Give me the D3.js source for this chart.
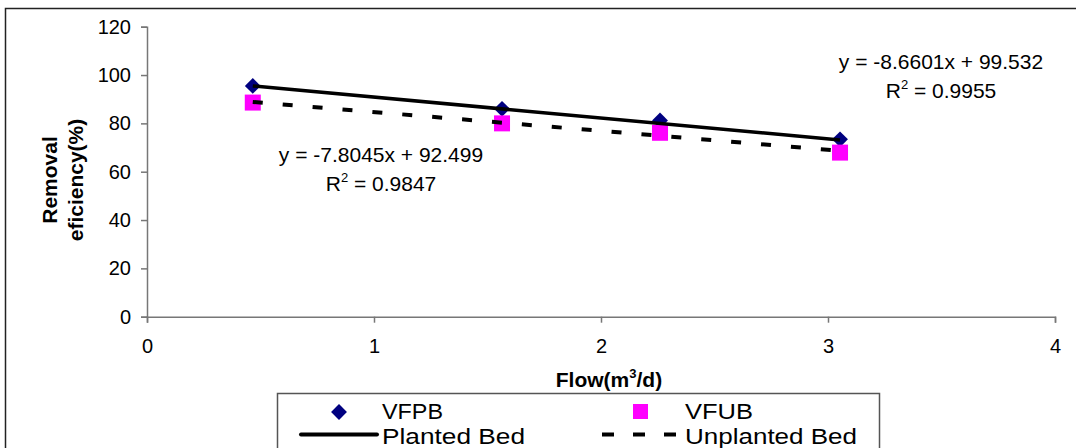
<!DOCTYPE html>
<html>
<head>
<meta charset="utf-8">
<script src="https://cdn.jsdelivr.net/npm/d3@7"></script>
<style>
  html, body { margin: 0; padding: 0; background: #fff; overflow: hidden; }
  text { font-family: "Liberation Sans", Arial, sans-serif; }
</style>
</head>
<body>
<div id="chart"></div>
<script>
// values
var flow = [0.466, 1.564, 2.26, 3.053];
var vfpb = [95.5, 86.0, 81.2, 73.4];
var vfub = [88.6, 80.0, 76.1, 67.9];
var xTicks = [0, 1, 2, 3, 4];
var yTicks = [0, 20, 40, 60, 80, 100, 120];
// trend lines as printed on the chart
var plantedFit = [-8.6601, 99.532];
var unplantedFit = [-7.8045, 92.499];

var width = 1076, height = 448;

var svg = d3.select('#chart').append('svg')
    .attr('width', width).attr('height', height);

// outer chart border (runs off the right/bottom edge)
svg.append('rect')
    .attr('x', 5.5).attr('y', 8.5)
    .attr('width', 1100).attr('height', 500)
    .attr('fill', '#fff').attr('stroke', '#222').attr('stroke-width', 1.5);

var x = d3.scaleLinear().domain([0, 4]).range([147, 1055]);
var y = d3.scaleLinear().domain([0, 120]).range([316.7, 26.7]);

// axes
var yAxis = d3.axisLeft(y).tickValues(yTicks).tickFormat(d3.format('d')).tickSize(6).tickPadding(10);
var xAxis = d3.axisBottom(x).tickValues(xTicks).tickFormat(d3.format('d')).tickSize(6).tickPadding(16);

var gy = svg.append('g').attr('transform', 'translate(' + x(0) + ',0)').call(yAxis);
var gx = svg.append('g').attr('transform', 'translate(0,' + y(0) + ')').call(xAxis);

[gx, gy].forEach(function(g) {
  g.select('.domain').attr('stroke', '#777').attr('stroke-width', 1.5);
  g.selectAll('.tick line').attr('stroke', '#777').attr('stroke-width', 1.5);
  g.selectAll('.tick text').attr('fill', '#000')
      .style('font-family', '"Liberation Sans", Arial, sans-serif')
      .style('font-size', '20px');
});

// markers
var diamond = d3.symbol().type(d3.symbolDiamond2).size(160);

svg.append('g').selectAll('path').data(flow)
    .enter().append('path')
    .attr('d', diamond)
    .attr('transform', function(d, i) { return 'translate(' + x(d) + ',' + y(vfpb[i]) + ')'; })
    .attr('fill', '#000080');

svg.append('g').selectAll('rect').data(flow)
    .enter().append('rect')
    .attr('x', function(d) { return x(d) - 8; })
    .attr('y', function(d, i) { return y(vfub[i]) - 8; })
    .attr('width', 16).attr('height', 16)
    .attr('fill', '#ff00ff');

// trend lines
var xMin = d3.min(flow), xMax = d3.max(flow);
function fitLine(fit) {
  return [[xMin, fit[0] * xMin + fit[1]], [xMax, fit[0] * xMax + fit[1]]];
}
var line = d3.line().x(function(d) { return x(d[0]); }).y(function(d) { return y(d[1]); });

svg.append('path').datum(fitLine(unplantedFit))
    .attr('d', line).attr('fill', 'none')
    .attr('stroke', '#000').attr('stroke-width', 4)
    .attr('stroke-dasharray', '10,20');

svg.append('path').datum(fitLine(plantedFit))
    .attr('d', line).attr('fill', 'none')
    .attr('stroke', '#000').attr('stroke-width', 3.5);

// equation labels
function eqLabel(cx, by, fit, r2) {
  var g = svg.append('g').style('font-size', '21px').attr('text-anchor', 'middle');
  g.append('text').attr('x', cx).attr('y', by)
      .text('y = ' + fit[0] + 'x + ' + fit[1]);
  var t = g.append('text').attr('x', cx).attr('y', by + 29);
  t.append('tspan').text('R');
  t.append('tspan').attr('dy', -9).style('font-size', '13px').text('2');
  t.append('tspan').attr('dy', 9).text(' = ' + r2);
}
eqLabel(381, 161.5, unplantedFit, '0.9847');
eqLabel(941, 69, plantedFit, '0.9955');

// axis titles
svg.append('text')
    .attr('x', 609).attr('y', 387)
    .attr('text-anchor', 'middle')
    .style('font-size', '21px').style('font-weight', 'bold')
    .call(function(t) {
      t.append('tspan').text('Flow(m');
      t.append('tspan').attr('dy', -9).style('font-size', '13px').text('3');
      t.append('tspan').attr('dy', 9).text('/d)');
    });

var yt = svg.append('g').attr('transform', 'translate(0,180) rotate(-90)')
    .style('font-size', '21px').style('font-weight', 'bold').attr('text-anchor', 'middle');
yt.append('text').attr('x', 0).attr('y', 57).text('Removal');
yt.append('text').attr('x', 0).attr('y', 83).text('eficiency(%)');

// legend (text is a little stretched in the original)
var legend = svg.append('g').style('font-size', '21.5px');
legend.append('rect')
    .attr('x', 277.5).attr('y', 393.5).attr('width', 602).attr('height', 80)
    .attr('fill', '#fff').attr('stroke', '#555').attr('stroke-width', 1.5);

function legendText(lx, ly, s, len) {
  legend.append('text').attr('x', lx).attr('y', ly)
      .attr('textLength', len).attr('lengthAdjust', 'spacingAndGlyphs').text(s);
}

legend.append('path').attr('d', diamond)
    .attr('transform', 'translate(339,412)').attr('fill', '#000080');
legendText(382, 418.5, 'VFPB', 61);
legend.append('line').attr('x1', 301).attr('x2', 377).attr('y1', 434.5).attr('y2', 434.5)
    .attr('stroke', '#000').attr('stroke-width', 4).attr('stroke-linecap', 'round');
legendText(382, 443.5, 'Planted Bed', 143);

legend.append('rect').attr('x', 633).attr('y', 404).attr('width', 15).attr('height', 15)
    .attr('fill', '#ff00ff');
legendText(685, 418.5, 'VFUB', 68);
legend.append('line').attr('x1', 602).attr('x2', 680).attr('y1', 434.5).attr('y2', 434.5)
    .attr('stroke', '#000').attr('stroke-width', 4).attr('stroke-dasharray', '12,19');
legendText(685, 443.5, 'Unplanted Bed', 172);
</script>
</body>
</html>
